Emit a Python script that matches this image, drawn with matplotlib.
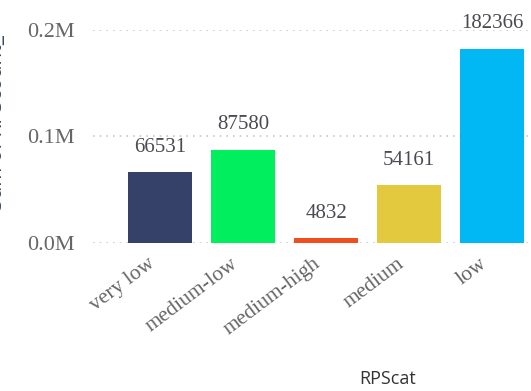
import matplotlib.pyplot as plt
import matplotlib.transforms as mtransforms
from matplotlib.ticker import FuncFormatter

categories = ['very low', 'medium-low', 'medium-high', 'medium', 'low']
totals = [66531, 87580, 4832, 54161, 182366]
colors = ['#354169', '#01EF5E', '#F04E1E', '#E2C93E', '#01B8F5']

fig = plt.figure(figsize=(5.31, 3.91), dpi=100)
ax = fig.add_axes([0.175, 0.3785, 0.825, 0.5448])

x = range(len(categories))
ax.bar(x, totals, width=0.77, color=colors, zorder=3)

for i, v in enumerate(totals):
    ax.annotate(str(v), (i, v), xytext=(0, 11), textcoords='offset points',
                ha='center', va='bottom', fontsize=15, color='#4a4a52',
                family='Liberation Serif', annotation_clip=False)

ax.set_xlim(-0.81, 4.47)
ax.set_ylim(0, 200000)
ax.set_yticks([0, 100000, 200000])
ax.yaxis.set_major_formatter(FuncFormatter(lambda v, p: f'{v / 1e6:.1f}M'))
ax.grid(axis='y', color='#c8c8c8', linestyle=(0, (1, 3)), linewidth=1.2, zorder=0)

for s in ax.spines.values():
    s.set_visible(False)
ax.tick_params(length=0)
ax.tick_params(axis='y', pad=13, labelsize=16, labelcolor='#666666')

ax.set_xticks(list(x))
ax.set_xticklabels(categories, rotation=37, ha='right', rotation_mode='anchor',
                   fontsize=15.5, color='#666666')
ax.tick_params(axis='x', pad=8)
shift = mtransforms.ScaledTranslation(-0.13, 0, fig.dpi_scale_trans)
for lbl in ax.get_xticklabels():
    lbl.set_transform(lbl.get_transform() + shift)
for lbl in ax.get_xticklabels() + ax.get_yticklabels():
    lbl.set_family('Liberation Serif')

fig.text(388 / 531, 1 - 379 / 391, 'RPScat', ha='center', va='center',
         fontsize=13, color='#333333', family='Open Sans')
fig.text(-0.026, 1 - 122 / 391, 'Sum of RPScount_', rotation=90, ha='left',
         va='center', fontsize=15, color='#3a4a66', family='Open Sans')

fig.savefig('out.png', dpi=100)
